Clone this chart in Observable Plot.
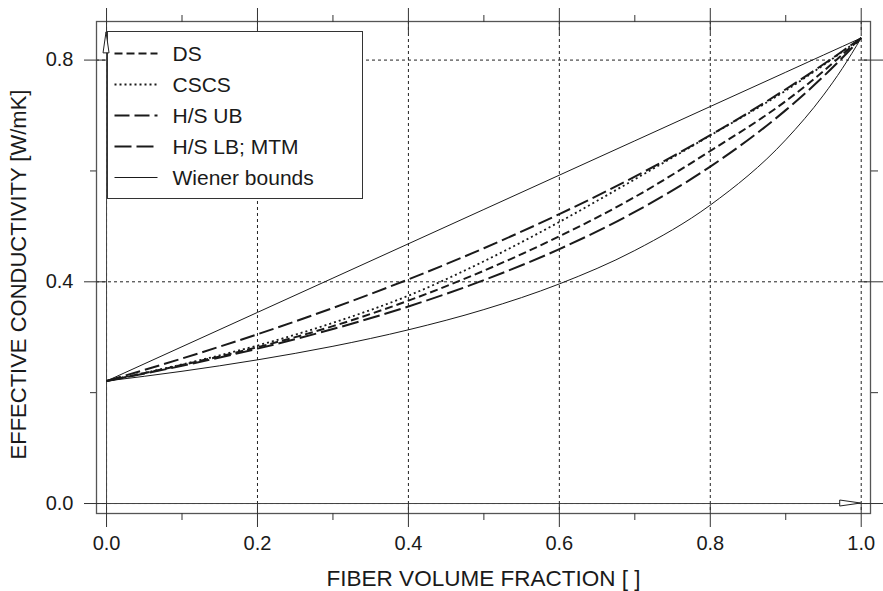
<!DOCTYPE html>
<html>
<head>
<meta charset="utf-8">
<script src="https://cdn.jsdelivr.net/npm/d3@7"></script>
<script src="https://cdn.jsdelivr.net/npm/@observablehq/plot@0.6"></script>
<style>
  body { margin: 0; background: #fff; }
  #chart { width: 883px; height: 591px; }
</style>
</head>
<body>
<div id="chart"></div>
<script>
// Fiber volume fraction (x) and effective transverse conductivity [W/mK] of each model
const phi         = [0, 0.1, 0.2, 0.3, 0.4, 0.5, 0.6, 0.7, 0.8, 0.9, 0.95, 0.975, 1.0];
const ds          = [0.221, 0.250, 0.282, 0.320, 0.366, 0.420, 0.482, 0.553, 0.636, 0.726, 0.780, 0.810, 0.84];
const cscs        = [0.221, 0.251, 0.285, 0.326, 0.375, 0.437, 0.508, 0.585, 0.664, 0.745, 0.791, 0.815, 0.84];
const hsUpper     = [0.221, 0.2616, 0.3054, 0.3528, 0.4044, 0.4606, 0.5221, 0.5898, 0.6645, 0.7474, 0.7924, 0.8159, 0.84];
const hsLower     = [0.221, 0.2484, 0.2794, 0.3148, 0.3555, 0.4030, 0.4590, 0.5261, 0.6078, 0.7097, 0.7706, 0.8041, 0.84];
const wienerUpper = [0.221, 0.2829, 0.3448, 0.4067, 0.4686, 0.5305, 0.5924, 0.6543, 0.7162, 0.7781, 0.8091, 0.8245, 0.84];
const wienerLower = [0.221, 0.2386, 0.2592, 0.2837, 0.3134, 0.3499, 0.3962, 0.4565, 0.5384, 0.6562, 0.7368, 0.7850, 0.84];

// Tick values
const xMajor = [0, 0.2, 0.4, 0.6, 0.8, 1.0];
const xMinor = [0.1, 0.3, 0.5, 0.7, 0.9];
const yMajor = [0, 0.4, 0.8];
const yMinor = [0.2, 0.6];

// Coordinate arrows along the axes
const axisArrows = [
  {x1: 0, y1: 0, x2: 1.0, y2: 0},
  {x1: 0, y1: 0, x2: 0, y2: 0.85}
];

const xTitle = "FIBER VOLUME FRACTION [ ]";
const yTitle = "EFFECTIVE CONDUCTIVITY [W/mK]";

// Series names (legend order) with their values
const seriesNames = ["DS", "CSCS", "H/S UB", "H/S LB; MTM", "Wiener bounds"];
const seriesValues = {
  "DS": [ds],
  "CSCS": [cscs],
  "H/S UB": [hsUpper],
  "H/S LB; MTM": [hsLower],
  "Wiener bounds": [wienerUpper, wienerLower]
};

// Line styles per series
const styles = {
  "DS":            {dash: "8,4",  width: 2},
  "CSCS":          {dash: "2,3",  width: 1.8},
  "H/S UB":        {dash: "15,5", width: 2},
  "H/S LB; MTM":   {dash: "17,5", width: 2},
  "Wiener bounds": {dash: null,   width: 1}
};

const ink = "#1a1a1a";
const font = "Liberation Sans, Arial, sans-serif";

const lineMarks = seriesNames.flatMap(name =>
  seriesValues[name].map(vals =>
    Plot.line(phi.map((p, i) => ({phi: p, k: vals[i]})), {
      x: "phi", y: "k", curve: "monotone-x",
      stroke: ink, strokeWidth: styles[name].width,
      strokeDasharray: styles[name].dash, strokeLinecap: "butt"
    })
  )
);

const noText = () => "";

const plot = Plot.plot({
  width: 883,
  height: 591,
  marginLeft: 96,
  marginRight: 13,
  marginTop: 21,
  marginBottom: 78,
  style: {fontFamily: font, background: "#fff"},
  x: {domain: [-0.0133, 1.0123]},
  y: {domain: [-0.018, 0.8696]},
  marks: [
    // dotted grid
    Plot.ruleX(xMajor, {stroke: "#222", strokeWidth: 1, strokeDasharray: "3,3"}),
    Plot.ruleY(yMajor, {stroke: "#222", strokeWidth: 1, strokeDasharray: "3,3"}),
    // axis arrow shafts
    Plot.link(axisArrows, {x1: "x1", y1: "y1", x2: "x2", y2: "y2", stroke: "#444", strokeWidth: 1}),
    ...lineMarks,
    Plot.frame({stroke: "#555", strokeWidth: 1.3}),
    // major ticks crossing the frame
    Plot.axisX(xMajor, {anchor: "bottom", tickSize: 24, dy: -10, tickFormat: noText, label: null, stroke: "#333"}),
    Plot.axisX(xMajor, {anchor: "top", tickSize: 25, dy: 11, tickFormat: noText, label: null, stroke: "#333"}),
    Plot.axisY(yMajor, {anchor: "left", tickSize: 22, dx: 10, tickFormat: noText, label: null, stroke: "#333"}),
    Plot.axisY(yMajor, {anchor: "right", tickSize: 23, dx: -10, tickFormat: noText, label: null, stroke: "#333"}),
    // minor ticks outside the frame
    Plot.axisX(xMinor, {anchor: "bottom", tickSize: 7, tickFormat: noText, label: null, stroke: "#333"}),
    Plot.axisX(xMinor, {anchor: "top", tickSize: 7, tickFormat: noText, label: null, stroke: "#333"}),
    Plot.axisY(yMinor, {anchor: "left", tickSize: 6, tickFormat: noText, label: null, stroke: "#333"}),
    Plot.axisY(yMinor, {anchor: "right", tickSize: 7, tickFormat: noText, label: null, stroke: "#333"}),
    // tick labels
    Plot.axisX(xMajor, {anchor: "bottom", tickSize: 0, tickPadding: 22, tickFormat: d3.format(".1f"),
                        label: null, fontSize: 20, fill: ink}),
    Plot.axisY(yMajor, {anchor: "left", tickSize: 0, tickPadding: 23, tickFormat: d3.format(".1f"),
                        label: null, fontSize: 20, fill: ink}),
    // axis titles
    Plot.text([xTitle], {frameAnchor: "bottom", dy: 72, lineAnchor: "bottom", fontSize: 22.5, fill: ink}),
    Plot.text([yTitle], {frameAnchor: "left", textAnchor: "middle", rotate: -90, dx: -78, dy: 7,
                         lineAnchor: "middle", fontSize: 22, fill: ink})
  ]
});

const svg = d3.select(plot);

// legend box in the upper-left corner of the plotting area
(function addLegend() {
  const lg = svg.append("g").attr("transform", "translate(107.5,31.5)");
  lg.append("rect").attr("width", 255).attr("height", 167)
    .attr("fill", "#fff").attr("stroke", "#333").attr("stroke-width", 1);
  seriesNames.forEach((name, i) => {
    const cy = 22 + 31 * i;
    const s = styles[name];
    const ln = lg.append("line").attr("x1", 7).attr("x2", 50).attr("y1", cy).attr("y2", cy)
      .attr("stroke", ink).attr("stroke-width", s.width);
    if (s.dash) ln.attr("stroke-dasharray", s.dash);
    lg.append("text").attr("x", 65).attr("y", cy).attr("dy", "0.35em")
      .attr("text-anchor", "start")
      .attr("font-size", 21).attr("font-family", font).attr("fill", ink).text(name);
  });
})();

// open triangular arrowheads at the tips of the axis arrows
(function addArrowHeads() {
  const sx = plot.scale("x"), sy = plot.scale("y");
  const g = svg.append("g");
  const len = 21, half = 3;
  for (const a of axisArrows) {
    const xa = sx.apply(a.x1), ya = sy.apply(a.y1);
    const xb = sx.apply(a.x2), yb = sy.apply(a.y2);
    const d = Math.hypot(xb - xa, yb - ya);
    const ux = (xb - xa) / d, uy = (yb - ya) / d;
    const nx = -uy, ny = ux;
    const bx = xb - len * ux, by = yb - len * uy;
    g.append("polygon")
      .attr("points", [[xb, yb], [bx + half * nx, by + half * ny], [bx - half * nx, by - half * ny]].map(p => p.join(",")).join(" "))
      .attr("fill", "#fff").attr("stroke", "#222").attr("stroke-width", 1);
  }
})();

document.getElementById("chart").appendChild(plot);
</script>
</body>
</html>
